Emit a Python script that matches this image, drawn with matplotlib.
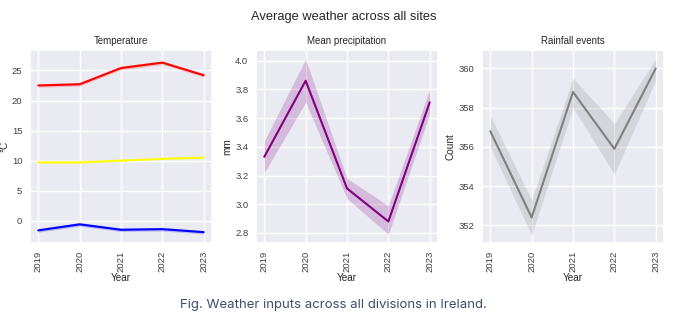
import matplotlib
matplotlib.use('Agg')
import matplotlib.pyplot as plt
import seaborn as sns

years = [2019, 2020, 2021, 2022, 2023]

# temperature: yearly mean of max / mean / min, with confidence band
temp_max = [22.5, 22.7, 25.4, 26.3, 24.2]
temp_max_lo = [22.2, 22.4, 25.1, 26.0, 23.9]
temp_max_hi = [22.8, 23.0, 25.7, 26.6, 24.5]
temp_mean = [9.7, 9.7, 10.0, 10.3, 10.5]
temp_mean_lo = [9.6, 9.6, 9.9, 10.2, 10.4]
temp_mean_hi = [9.8, 9.8, 10.1, 10.4, 10.6]
temp_min = [-1.6, -0.6, -1.5, -1.4, -1.9]
temp_min_lo = [-1.9, -0.9, -1.8, -1.7, -2.2]
temp_min_hi = [-1.3, -0.3, -1.2, -1.1, -1.6]

precip = [3.33, 3.86, 3.11, 2.88, 3.71]
precip_lo = [3.22, 3.71, 3.04, 2.79, 3.63]
precip_hi = [3.44, 4.01, 3.18, 2.99, 3.80]

rain_events = [356.8, 352.4, 358.8, 355.9, 360.0]
rain_lo = [356.0, 351.5, 358.0, 354.6, 359.4]
rain_hi = [357.6, 353.3, 359.5, 357.2, 360.5]

sns.set_theme(style='darkgrid')
plt.rcParams['font.family'] = ['Liberation Sans', 'DejaVu Sans']

fig = plt.figure(figsize=(6.88, 3.33), dpi=100)
W, H = 688, 333


def panel(left, right, top=50, bottom=243):
    return fig.add_axes([left / W, 1 - bottom / H, (right - left) / W, (bottom - top) / H])


ax1 = panel(30, 212)
ax2 = panel(256, 438)
ax3 = panel(482, 664)

for ax, y, lo, hi, c in [
    (ax1, temp_max, temp_max_lo, temp_max_hi, 'red'),
    (ax1, temp_mean, temp_mean_lo, temp_mean_hi, 'yellow'),
    (ax1, temp_min, temp_min_lo, temp_min_hi, 'blue'),
    (ax2, precip, precip_lo, precip_hi, 'purple'),
    (ax3, rain_events, rain_lo, rain_hi, 'grey'),
]:
    ax.plot(years, y, color=c, lw=1.5)
    ax.fill_between(years, lo, hi, color=c, alpha=0.2, lw=0)

ax1.set_ylim(-3.7, 28.4)
ax2.set_ylim(2.73, 4.074)
ax3.set_ylim(351.1, 360.94)

titles = ['Temperature', 'Mean precipitation', 'Rainfall events']
ylabels = ['°C', 'mm', 'Count']
for ax, t, yl in zip([ax1, ax2, ax3], titles, ylabels):
    ax.set_xticks(years)
    ax.set_xticklabels([str(y) for y in years], rotation=90)
    ax.set_xlim(2018.8, 2023.2)
    ax.tick_params(labelsize=6.8, length=0, pad=5.5, colors='#404040')
    ax.set_title(t, fontsize=7, pad=4, color='#262626')
    ax.set_xlabel('Year', fontsize=7.2, labelpad=1, color='#262626')
    ax.set_ylabel(yl, fontsize=7.2, labelpad=2, color='#262626')

fig.text(0.5, 0.949, 'Average weather across all sites', ha='center', va='center',
         fontsize=9.3, color='#262626')
fig.text(0.484, 0.084, 'Fig. Weather inputs across all divisions in Ireland.',
         ha='center', va='center', fontsize=9.5, color='#3d4f6e', family=['Inter', 'DejaVu Sans'])

fig.savefig('out.png', dpi=100, facecolor='white')
